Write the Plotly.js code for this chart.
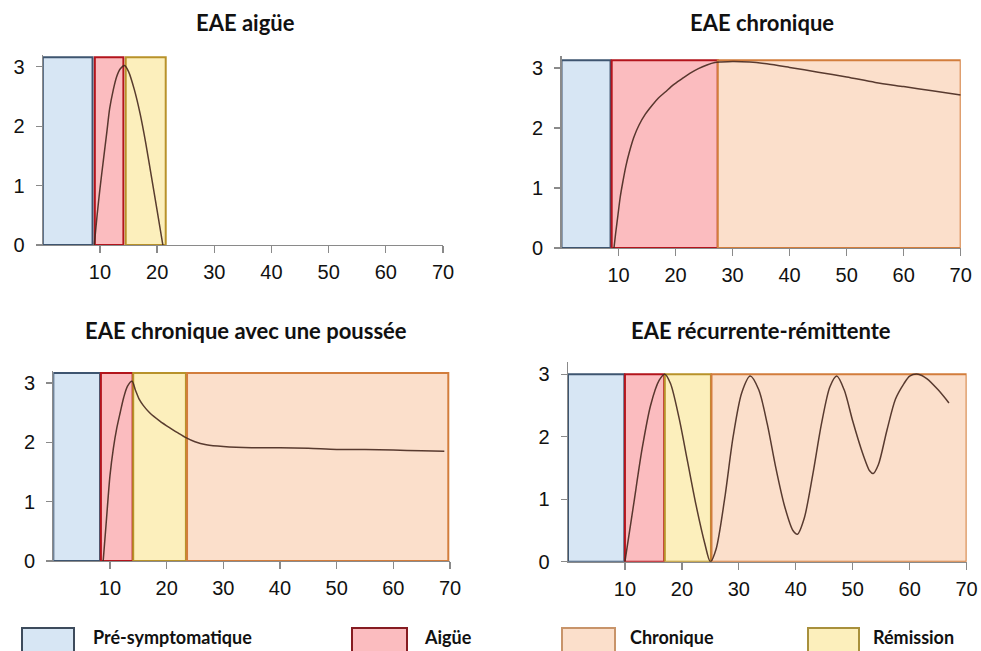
<!DOCTYPE html>
<html>
<head>
<meta charset="utf-8">
<script src="https://cdn.plot.ly/plotly-3.0.1.min.js"></script>
<style>html,body{margin:0;padding:0;background:#fff;}#chart{width:981px;height:651px;}</style>
</head>
<body>
<div id="chart"></div>
<script>
// ---------- data ----------
const panelTitles = ['EAE aigüe', 'EAE chronique', 'EAE chronique avec une poussée', 'EAE récurrente-rémittente'];
const phaseNames = ['Pré-symptomatique', 'Aigüe', 'Chronique', 'Rémission'];
const dayTicks = [10, 20, 30, 40, 50, 60, 70];
const scoreTicks = [0, 1, 2, 3];

// Panel 1 : EAE aigüe
const acutePhase = ['Pré-symptomatique', 'Aigüe', 'Rémission'];
const acuteStart = [0, 9.1, 14.5];
const acuteEnd = [8.7, 14.1, 21.5];
const acuteTop = [3.16, 3.16, 3.16];
const acuteDay = [9, 9.5, 10, 10.6, 11.2, 11.7, 12.3, 12.9, 13.6, 14.3, 15, 16, 17, 18, 19, 20, 21];
const acuteScore = [0, 0.5, 0.95, 1.43, 1.9, 2.3, 2.6, 2.83, 2.97, 3.02, 2.92, 2.62, 2.22, 1.72, 1.15, 0.58, 0];

// Panel 2 : EAE chronique
const chronicPhase = ['Pré-symptomatique', 'Aigüe', 'Chronique'];
const chronicStart = [0, 8.8, 27.4];
const chronicEnd = [8.6, 27.4, 70];
const chronicTop = [3.13, 3.13, 3.13];
const chronicDay = [9.2, 9.5, 9.9, 10.3, 10.75, 11.3, 11.9, 12.7, 13.6, 14.7, 15.9, 17, 18.2, 19.6, 21.1, 22.5, 24, 25.5, 26.9, 28, 30, 33, 36, 40, 45, 50, 55, 60, 65, 70];
const chronicScore = [0, 0.25, 0.55, 0.85, 1.1, 1.37, 1.6, 1.85, 2.05, 2.23, 2.38, 2.5, 2.6, 2.72, 2.82, 2.91, 2.99, 3.05, 3.09, 3.1, 3.11, 3.1, 3.07, 3.01, 2.93, 2.85, 2.76, 2.69, 2.62, 2.55];

// Panel 3 : EAE chronique avec une poussée
const relapsePhase = ['Pré-symptomatique', 'Aigüe', 'Rémission', 'Chronique'];
const relapseStart = [0, 8.4, 14.1, 23.6];
const relapseEnd = [8.25, 14.0, 23.4, 69.7];
const relapseTop = [3.17, 3.17, 3.17, 3.17];
const relapseDay = [8.8, 9.3, 10, 10.6, 11.2, 11.8, 12.4, 13.1, 13.9, 14.5, 15.2, 15.9, 17, 18.8, 20.5, 22, 23.4, 25, 27, 30, 35, 40, 45, 50, 55, 60, 65, 69];
const relapseScore = [0, 0.6, 1.44, 1.9, 2.24, 2.5, 2.75, 2.95, 3.03, 2.88, 2.72, 2.62, 2.5, 2.36, 2.25, 2.16, 2.08, 2.01, 1.96, 1.93, 1.91, 1.91, 1.9, 1.88, 1.88, 1.87, 1.86, 1.85];

// Panel 4 : EAE récurrente-rémittente
const rrPhase = ['Pré-symptomatique', 'Aigüe', 'Rémission', 'Chronique'];
const rrStart = [0, 10, 17.0, 25.2];
const rrEnd = [9.9, 16.9, 25.1, 70];
const rrTop = [3.0, 3.0, 3.0, 3.0];
const rrDay = [10, 11.5, 13, 14.5, 16, 17, 18, 19.5, 21, 22.5, 24, 25, 26, 27.5, 29, 30.5, 32, 33.5, 35, 36.5, 38, 39.5, 40.3, 41.5, 43, 44.5, 46, 47.2, 48.5, 50, 51.5, 53, 53.6, 54.5, 56, 57.5, 59, 60, 61.5, 63, 65, 66.9];
const rrScore = [0, 0.9, 1.8, 2.5, 2.9, 3.0, 2.85, 2.3, 1.6, 0.9, 0.3, 0, 0.2, 1.0, 2.0, 2.7, 2.97, 2.75, 2.2, 1.5, 0.9, 0.5, 0.44, 0.7, 1.4, 2.2, 2.8, 2.97, 2.75, 2.25, 1.8, 1.45, 1.41, 1.55, 2.1, 2.6, 2.85, 2.97, 3.0, 2.93, 2.75, 2.54];

// ---------- styles ----------
const phaseFill = {
  'Pré-symptomatique': '#d7e6f4',
  'Aigüe': '#fbbcbf',
  'Chronique': '#fbdfcb',
  'Rémission': '#fcefbc'
};
const phaseLine = {
  'Pré-symptomatique': '#3e5570',
  'Aigüe': '#b3141c',
  'Chronique': '#d27d3c',
  'Rémission': '#b8922a'
};
const legendLine = {
  'Pré-symptomatique': '#3d4b5c',
  'Aigüe': '#861c22',
  'Chronique': '#c8946a',
  'Rémission': '#a8903c'
};
const curveColor = 'rgba(70,40,30,0.9)';

const panels = [
  {names: acutePhase, start: acuteStart, end: acuteEnd, top: acuteTop, day: acuteDay, score: acuteScore, xa: 'x', ya: 'y'},
  {names: chronicPhase, start: chronicStart, end: chronicEnd, top: chronicTop, day: chronicDay, score: chronicScore, xa: 'x2', ya: 'y2'},
  {names: relapsePhase, start: relapseStart, end: relapseEnd, top: relapseTop, day: relapseDay, score: relapseScore, xa: 'x3', ya: 'y3'},
  {names: rrPhase, start: rrStart, end: rrEnd, top: rrTop, day: rrDay, score: rrScore, xa: 'x4', ya: 'y4'}
];

const traces = [];
panels.forEach(p => {
  p.names.forEach((n, i) => {
    const s = p.start[i], e = p.end[i], t = p.top[i];
    traces.push({
      type: 'scatter', mode: 'lines', xaxis: p.xa, yaxis: p.ya,
      x: [s, e, e, s, s], y: [0, 0, t, t, 0],
      fill: 'toself', fillcolor: phaseFill[n],
      line: {color: phaseLine[n], width: 2},
      hoverinfo: 'skip', showlegend: false
    });
  });
  traces.push({
    type: 'scatter', mode: 'lines', xaxis: p.xa, yaxis: p.ya,
    x: p.day, y: p.score,
    line: {color: curveColor, width: 1.5, shape: 'spline', smoothing: 0.8},
    showlegend: false, hoverinfo: 'x+y'
  });
});

// ---------- layout ----------
const W = 981, H = 651;
function px2x(px) { return px / W; }
function px2y(py) { return 1 - py / H; }

const tickFont = {family: 'Liberation Sans, Arial, sans-serif', size: 20, color: '#111'};
function xAxis(d0, d1, anchor) {
  return {
    domain: [px2x(d0), px2x(d1)], anchor: anchor, range: [0, 70],
    tickvals: dayTicks, ticktext: dayTicks.map(String),
    showline: true, linecolor: '#8a8a8a', linewidth: 1.3,
    ticks: 'outside', ticklen: 7, tickcolor: '#8a8a8a', tickwidth: 1.3,
    showgrid: false, zeroline: false, tickfont: tickFont, ticklabelstandoff: 2,
    fixedrange: true
  };
}
function yAxis(p0, p1, anchor) {
  return {
    domain: [px2y(p0), px2y(p1)], anchor: anchor, range: [0, 3.2],
    tickvals: scoreTicks, ticktext: scoreTicks.map(String),
    showline: true, linecolor: '#8a8a8a', linewidth: 1.3,
    ticks: 'outside', ticklen: 6, tickcolor: '#8a8a8a', tickwidth: 1.3,
    showgrid: false, zeroline: false, tickfont: tickFont, ticklabelstandoff: 7,
    fixedrange: true
  };
}

const titleFont = {family: 'Lato, Open Sans, sans-serif', size: 22, color: '#111', weight: 700};
const annotations = [
  {text: panelTitles[0], x: px2x(245), y: px2y(22)},
  {text: panelTitles[1], x: px2x(762), y: px2y(22)},
  {text: panelTitles[2], x: px2x(246), y: px2y(331)},
  {text: panelTitles[3], x: px2x(761), y: px2y(331)}
].map(a => Object.assign(a, {xref: 'paper', yref: 'paper', showarrow: false, xanchor: 'center', yanchor: 'middle', font: titleFont}));

// legend (drawn manually, bottom row)
const legendBoxX = [[22, 74], [352, 407], [562, 615], [808, 859]];
const legendTextX = [91, 422, 628, 871];
const shapes = [];
phaseNames.forEach((n, i) => {
  shapes.push({
    type: 'rect', xref: 'paper', yref: 'paper',
    x0: px2x(legendBoxX[i][0]), x1: px2x(legendBoxX[i][1]),
    y0: px2y(662), y1: px2y(628),
    fillcolor: phaseFill[n], line: {color: legendLine[n], width: 2}
  });
  annotations.push({
    text: n, xref: 'paper', yref: 'paper', x: px2x(legendTextX[i]), y: px2y(650),
    xanchor: 'left', yanchor: 'bottom', showarrow: false,
    font: {family: 'Lato, Open Sans, sans-serif', size: 18, color: '#111', weight: 700}
  });
});

const layout = {
  width: W, height: H,
  margin: {l: 0, r: 0, t: 0, b: 0},
  paper_bgcolor: '#ffffff', plot_bgcolor: 'rgba(0,0,0,0)',
  showlegend: false,
  xaxis: xAxis(42.8, 443, 'y'),
  yaxis: yAxis(245, 245 - 3.2 * 59.4, 'x'),
  xaxis2: xAxis(561.5, 960.7, 'y2'),
  yaxis2: yAxis(248, 248 - 3.2 * 60, 'x2'),
  xaxis3: xAxis(53.3, 450, 'y3'),
  yaxis3: yAxis(561, 561 - 3.2 * 59.3, 'x3'),
  xaxis4: xAxis(568, 966.6, 'y4'),
  yaxis4: yAxis(561.7, 561.7 - 3.2 * 62.5, 'x4'),
  annotations: annotations,
  shapes: shapes
};

Plotly.newPlot('chart', traces, layout, {displayModeBar: false, staticPlot: true});
</script>
</body>
</html>
